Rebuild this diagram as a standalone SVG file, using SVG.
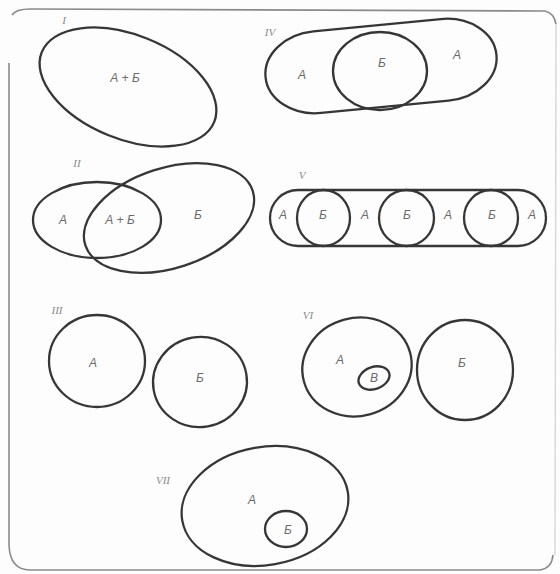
<svg xmlns="http://www.w3.org/2000/svg" width="560" height="574" viewBox="0 0 560 574">
<style>
.s{fill:none;stroke:#363636;stroke-width:2.3}
.f{fill:none;stroke:#8a8a8a;stroke-width:1.6}
.fl{fill:none;stroke:#d6d6d6;stroke-width:1.4}
.t{font-family:"Liberation Sans",Arial,sans-serif;font-style:italic;font-size:12px;fill:#6a6a6a;text-anchor:middle}
.n{font-family:"Liberation Serif","Times New Roman",serif;font-style:italic;font-size:11px;fill:#8a8a8a;text-anchor:middle}
</style>
<rect width="560" height="574" fill="#fdfdfd"/>
<g id="frame">
<path class="f" d="M12,15 Q16,9 30,9 L545,11 Q554,13 556,24"/>
<path class="fl" d="M556,24 L555,555"/>
<path class="f" d="M9,63 L9,545 Q10,570 30,570 L540,570 Q552,568 553,555"/>
</g>
<g id="fig1">
<ellipse class="s" cx="128" cy="87" rx="93" ry="52" transform="rotate(22 128 87)"/>
<text class="n" x="64" y="24">I</text>
<text class="t" x="125" y="82">А + Б</text>
</g>
<g id="fig4">
<rect class="s" x="-116" y="-41" width="232" height="82" rx="52" ry="41" transform="translate(381 66) rotate(-5.5)"/>
<ellipse class="s" cx="380" cy="71" rx="47" ry="39"/>
<text class="n" x="270" y="36">IV</text>
<text class="t" x="302" y="79">А</text>
<text class="t" x="382" y="67">Б</text>
<text class="t" x="457" y="59">А</text>
</g>
<g id="fig2">
<ellipse class="s" cx="97" cy="220" rx="64" ry="38"/>
<ellipse class="s" cx="169" cy="218" rx="88" ry="50" transform="rotate(-18 169 218)"/>
<text class="n" x="77" y="167">II</text>
<text class="t" x="63" y="224">А</text>
<text class="t" x="120" y="224">А + Б</text>
<text class="t" x="198" y="219">Б</text>
</g>
<g id="fig5">
<rect class="s" x="270" y="190" width="276" height="56" rx="28" ry="28"/>
<ellipse class="s" cx="323.5" cy="218" rx="26.5" ry="28"/>
<ellipse class="s" cx="406.5" cy="218" rx="27.5" ry="28"/>
<ellipse class="s" cx="491" cy="218" rx="27" ry="28"/>
<text class="n" x="302" y="179">V</text>
<text class="t" x="283" y="219">А</text>
<text class="t" x="323" y="219">Б</text>
<text class="t" x="365" y="219">А</text>
<text class="t" x="407" y="219">Б</text>
<text class="t" x="448" y="219">А</text>
<text class="t" x="492" y="219">Б</text>
<text class="t" x="532" y="219">А</text>
</g>
<g id="fig3">
<ellipse class="s" cx="97" cy="361" rx="48" ry="46"/>
<ellipse class="s" cx="200" cy="382" rx="47" ry="45" transform="rotate(-10 200 382)"/>
<text class="n" x="57" y="314">III</text>
<text class="t" x="93" y="367">А</text>
<text class="t" x="200" y="382">Б</text>
</g>
<g id="fig6">
<ellipse class="s" cx="357" cy="367" rx="55" ry="49" transform="rotate(-15 357 367)"/>
<ellipse class="s" cx="374" cy="378" rx="16" ry="11" transform="rotate(-20 374 378)"/>
<ellipse class="s" cx="465" cy="370" rx="48" ry="50"/>
<text class="n" x="308" y="319">VI</text>
<text class="t" x="340" y="364">А</text>
<text class="t" x="374" y="382">В</text>
<text class="t" x="462" y="367">Б</text>
</g>
<g id="fig7">
<ellipse class="s" cx="265" cy="506" rx="84" ry="59" transform="rotate(-10 265 506)"/>
<ellipse class="s" cx="286" cy="529" rx="21" ry="18"/>
<text class="n" x="163" y="484">VII</text>
<text class="t" x="252" y="504">А</text>
<text class="t" x="288" y="534">Б</text>
</g>
</svg>
